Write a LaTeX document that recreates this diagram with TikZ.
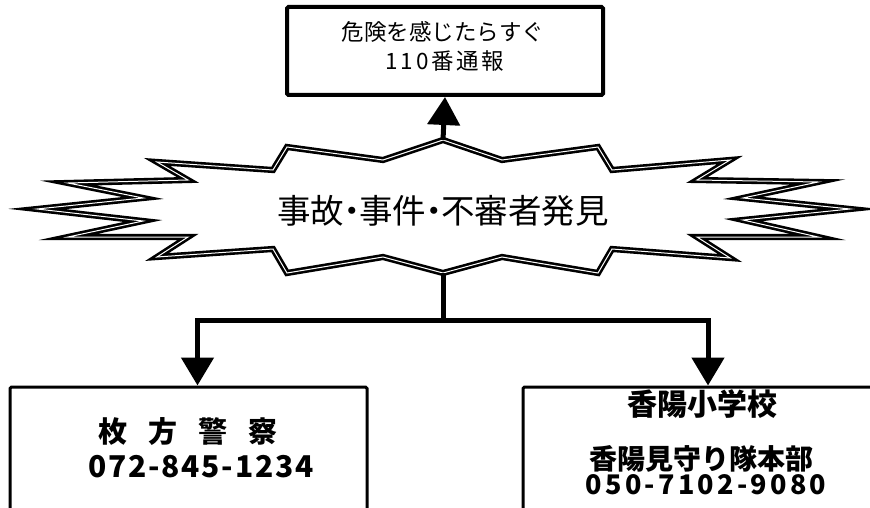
\documentclass[tikz,border=0pt]{standalone}
\usepackage{fontspec}
\usepackage{tikz}
\usetikzlibrary{arrows.meta}
\newfontfamily\jp{Noto Sans CJK JP}
\newfontfamily\jpwide[LetterSpace=6]{Noto Sans CJK JP}
\newfontfamily\jpwider[LetterSpace=12]{Noto Sans CJK JP}
\newcommand{\middot}{\makebox[15pt]{・}}

\tikzset{
  box/.style={draw=black, line width=3pt, fill=white, rounded corners=1.5pt, inner sep=0pt},
  link/.style={black, line width=5pt, -{Triangle[length=28pt,width=32pt]}},
  burst/.style={draw=black, line width=2.6pt, double=white, double distance=1pt, fill=white, line join=miter},
  boxtext/.style={anchor=base, inner sep=0pt, font=\jp\bfseries\fontsize{29}{29}\selectfont},
}

\begin{document}
\begin{tikzpicture}[x=1pt,y=-1pt]
\useasboundingbox (0,0) rectangle (870,508);
\clip (0,0) rectangle (870,508);
\fill[white] (0,0) rectangle (870,508);

% top box
\node[box, line width=4pt, minimum width=316pt, minimum height=88pt] (alert) at (445,51) {};
\node[anchor=base, inner sep=0pt, font=\jp\fontsize{22.5}{22.5}\selectfont] (alerttop) at (443,41) {危険を感じたらすぐ};
\node[anchor=base, inner sep=0pt, font=\jpwider\fontsize{22.5}{22.5}\selectfont] (alertnum) at (445,70) {110番通報};

% burst
\draw[burst] (443,140) -- (502,160) -- (598,147) -- (612,170) -- (730,160) -- (697,180)
  -- (818,182) -- (743,198) -- (850,209) -- (743,220) -- (818,237) -- (697,237)
  -- (730,258) -- (612,249) -- (598,273) -- (502,257) -- (443,273) -- (383,257)
  -- (287,273) -- (273,249) -- (157,257) -- (188,237) -- (68,237) -- (143,221)
  -- (37,209) -- (143,198) -- (68,183) -- (188,180) -- (157,162) -- (273,170)
  -- (287,147) -- (383,160) -- cycle;
\coordinate (bursttop) at (443,140);
\coordinate (burstbot) at (443,273);
\node[anchor=base, inner sep=0pt, font=\jp\fontsize{33.5}{33.5}\selectfont] (event) at (443,223) {事故\middot 事件\middot 不審者発見};

% bottom boxes
\node[box, minimum width=357pt, minimum height=140pt] (police) at (188.5,457) {};
\node[box, minimum width=360pt, minimum height=140pt] (school) at (703,457) {};
\node[boxtext] (policename) at (188,442) {枚\hspace{21pt}方\hspace{21pt}警\hspace{21pt}察};
\node[boxtext, font=\jpwide\bfseries\fontsize{30}{30}\selectfont] (policetel) at (201,477) {072-845-1234};
\node[boxtext, font=\jp\bfseries\fontsize{30}{30}\selectfont] (schoolname) at (702,415) {香陽小学校};
\node[boxtext, font=\jp\bfseries\fontsize{28}{28}\selectfont] (patrol) at (701,469) {香陽見守り隊本部};
\node[boxtext, font=\jpwider\bfseries\fontsize{27}{27}\selectfont] (schooltel) at (706,494) {050-7102-9080};

% connectors
\coordinate (split) at (443,320);
\draw[link] (bursttop) -- (alert.south);
\draw[link] (burstbot) -- (split) -| ([xshift=9pt]police.north);
\draw[link, shorten <=-2.5pt] (split) -| ([xshift=5pt]school.north);
\end{tikzpicture}
\end{document}
